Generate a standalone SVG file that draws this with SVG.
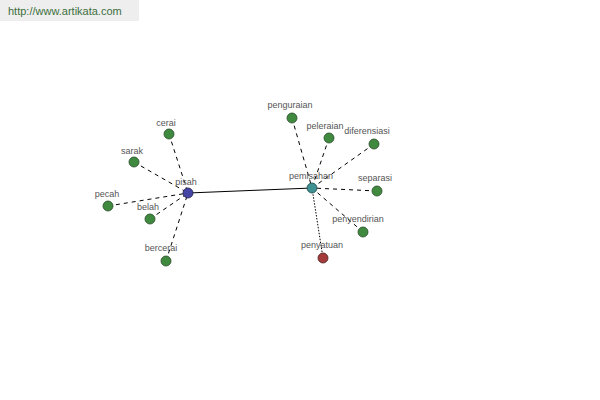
<svg xmlns="http://www.w3.org/2000/svg" width="600" height="400" viewBox="0 0 600 400">
<style>
.lbl{font-family:"Liberation Sans",Arial,sans-serif;font-size:9px;fill:#555;text-anchor:middle}
.leaf{fill:#3f8a3f;stroke:#2a4a2a;stroke-width:0.8}
.e{stroke:#000;stroke-width:1;stroke-dasharray:4,4;fill:none}
.d{stroke:#000;stroke-width:1;stroke-dasharray:1.5,1.5;fill:none}
.s{stroke:#000;stroke-width:1;fill:none}
</style>
<rect x="0" y="0" width="139" height="21" fill="#eeeeee"/>
<text x="8" y="15" font-family="'Liberation Sans',Arial,sans-serif" font-size="11" fill="#3d6e3d">http://www.artikata.com</text>
<g id="connectors">
<line class="s" x1="188" y1="193" x2="312" y2="188"/>
<line class="e" x1="169" y1="134" x2="188" y2="193"/>
<line class="e" x1="134" y1="162" x2="188" y2="193"/>
<line class="e" x1="108" y1="206" x2="188" y2="193"/>
<line class="e" x1="150" y1="219" x2="188" y2="193"/>
<line class="e" x1="166" y1="261" x2="188" y2="193"/>
<line class="e" x1="292" y1="118" x2="312" y2="188"/>
<line class="e" x1="329" y1="138" x2="312" y2="188"/>
<line class="e" x1="374" y1="144" x2="312" y2="188"/>
<line class="e" x1="377" y1="191" x2="312" y2="188"/>
<line class="e" x1="363" y1="232" x2="312" y2="188"/>
<line class="d" x1="323" y1="258" x2="312" y2="188"/>
</g>
<g id="cerai"><circle class="leaf" cx="169" cy="134" r="5"/><text class="lbl" x="166" y="126">cerai</text></g>
<g id="sarak"><circle class="leaf" cx="134" cy="162" r="5"/><text class="lbl" x="132" y="154">sarak</text></g>
<g id="pecah"><circle class="leaf" cx="108" cy="206" r="5"/><text class="lbl" x="107" y="197">pecah</text></g>
<g id="belah"><circle class="leaf" cx="150" cy="219" r="5"/><text class="lbl" x="148" y="210">belah</text></g>
<g id="bercerai"><circle class="leaf" cx="166" cy="261" r="5"/><text class="lbl" x="161" y="251">bercerai</text></g>
<g id="pisah"><circle cx="188" cy="193" r="5" fill="#4545a5" stroke="#22224a" stroke-width="0.8"/><text class="lbl" x="186" y="185">pisah</text></g>
<g id="penguraian"><circle class="leaf" cx="292" cy="118" r="5"/><text class="lbl" x="290" y="108">penguraian</text></g>
<g id="peleraian"><circle class="leaf" cx="329" cy="138" r="5"/><text class="lbl" x="325" y="129">peleraian</text></g>
<g id="diferensiasi"><circle class="leaf" cx="374" cy="144" r="5"/><text class="lbl" x="367" y="134">diferensiasi</text></g>
<g id="separasi"><circle class="leaf" cx="377" cy="191" r="5"/><text class="lbl" x="375" y="181">separasi</text></g>
<g id="penyendirian"><circle class="leaf" cx="363" cy="232" r="5"/><text class="lbl" x="358" y="222">penyendirian</text></g>
<g id="penyatuan"><circle cx="323" cy="258" r="5" fill="#a53a3a" stroke="#4a2020" stroke-width="0.8"/><text class="lbl" x="322" y="248">penyatuan</text></g>
<g id="pemisahan"><circle cx="312" cy="188" r="5" fill="#3f9090" stroke="#204848" stroke-width="0.8"/><text class="lbl" x="311" y="179">pemisahan</text></g>
</svg>
